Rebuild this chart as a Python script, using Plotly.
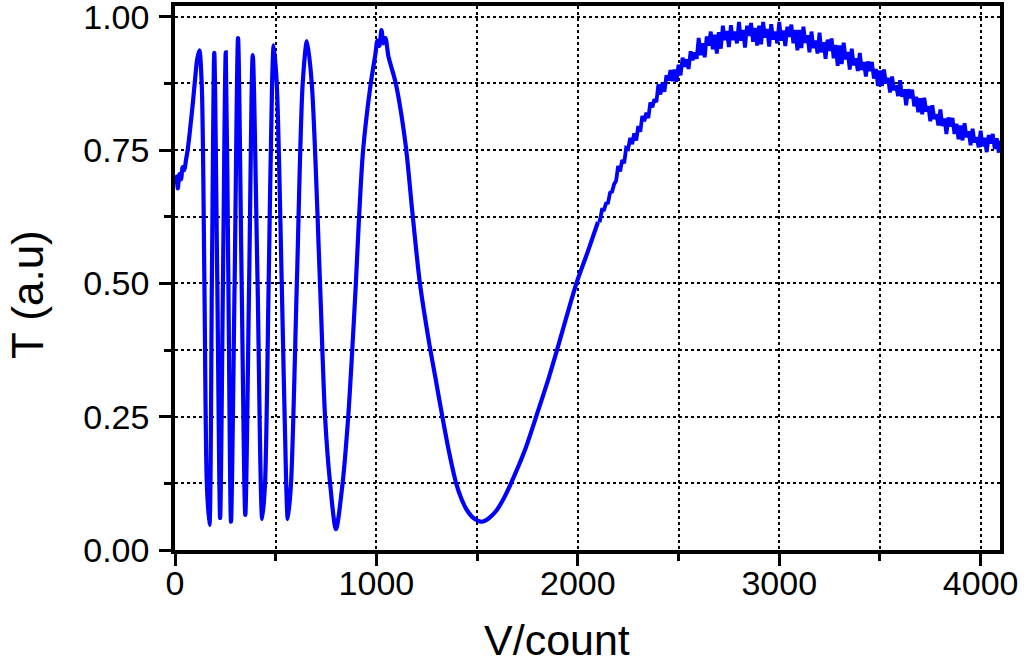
import plotly.graph_objects as go

# ---- smooth part of the trace ----
smooth_x = [0, 8, 14, 22, 30, 38, 46, 54, 62, 70, 78, 86, 94, 102, 110, 121,
            133, 146, 158, 171, 183, 195, 210, 224, 238, 252, 265, 278, 296, 313,
            331, 349, 368, 386, 410, 433, 447, 465, 482, 490, 505, 530, 552, 560,
            576, 605, 634, 655, 679, 720, 745, 770, 799, 832, 860, 880, 898, 914,
            934, 972, 995, 1005, 1015, 1025, 1035, 1045, 1060, 1096, 1145, 1178,
            1216, 1261, 1292, 1325, 1360, 1396, 1420, 1449, 1485, 1524, 1560,
            1598, 1630, 1668, 1735, 1800, 1855, 1889, 1993, 2050, 2100]
smooth_y = [0.685, 0.700, 0.678, 0.705, 0.695, 0.718, 0.712, 0.730, 0.748, 0.772,
            0.800, 0.828, 0.860, 0.892, 0.920, 0.937,
            0.870, 0.500, 0.125, 0.047, 0.500, 0.932, 0.500, 0.060, 0.500, 0.933,
            0.500, 0.053, 0.500, 0.960, 0.500, 0.066, 0.500, 0.928, 0.500, 0.058,
            0.125, 0.500, 0.875, 0.946, 0.875, 0.500, 0.125, 0.058, 0.125, 0.500,
            0.875, 0.954, 0.875, 0.500, 0.250, 0.125, 0.039, 0.125, 0.250, 0.375,
            0.500, 0.625, 0.750, 0.875, 0.930, 0.955, 0.945, 0.975, 0.950, 0.960,
            0.925, 0.875, 0.760, 0.635, 0.500, 0.390, 0.325, 0.255, 0.185, 0.125,
            0.098, 0.075, 0.059, 0.053, 0.060, 0.075, 0.095, 0.125, 0.185, 0.258,
            0.322, 0.365, 0.500, 0.560, 0.615]

# ---- noisy part of the trace (every 10 counts) ----
noisy_x = list(range(2100, 4100, 10)) + [4095]
noisy_y = [
    0.619, 0.618, 0.638, 0.638, 0.650, 0.651, 0.670, 0.672, 0.686, 0.692,
    0.720, 0.710, 0.731, 0.725, 0.754, 0.752, 0.773, 0.761, 0.781, 0.768,
    0.795, 0.784, 0.814, 0.804, 0.820, 0.810, 0.839, 0.830, 0.845, 0.840,
    0.873, 0.854, 0.876, 0.859, 0.890, 0.880, 0.900, 0.879, 0.901, 0.878,
    0.910, 0.890, 0.923, 0.906, 0.920, 0.902, 0.935, 0.918, 0.933, 0.921,
    0.960, 0.928, 0.950, 0.924, 0.963, 0.946, 0.972, 0.939, 0.966, 0.931,
    0.971, 0.940, 0.983, 0.956, 0.973, 0.943, 0.984, 0.956, 0.972, 0.950,
    0.990, 0.955, 0.975, 0.942, 0.983, 0.964, 0.988, 0.953, 0.979, 0.946,
    0.983, 0.948, 0.990, 0.961, 0.977, 0.944, 0.986, 0.957, 0.972, 0.950,
    0.990, 0.955, 0.974, 0.945, 0.981, 0.962, 0.985, 0.950, 0.975, 0.937,
    0.975, 0.941, 0.981, 0.951, 0.965, 0.933, 0.972, 0.941, 0.955, 0.931,
    0.970, 0.933, 0.952, 0.921, 0.957, 0.936, 0.959, 0.922, 0.947, 0.908,
    0.946, 0.911, 0.951, 0.920, 0.934, 0.901, 0.940, 0.909, 0.922, 0.898,
    0.932, 0.900, 0.915, 0.888, 0.916, 0.898, 0.915, 0.884, 0.902, 0.870,
    0.899, 0.870, 0.901, 0.875, 0.885, 0.858, 0.888, 0.862, 0.871, 0.851,
    0.881, 0.850, 0.864, 0.834, 0.864, 0.847, 0.863, 0.832, 0.850, 0.821,
    0.847, 0.817, 0.848, 0.822, 0.832, 0.804, 0.834, 0.808, 0.817, 0.796,
    0.826, 0.795, 0.809, 0.780, 0.811, 0.794, 0.810, 0.780, 0.799, 0.770,
    0.796, 0.768, 0.800, 0.774, 0.785, 0.759, 0.790, 0.764, 0.774, 0.755,
    0.786, 0.757, 0.773, 0.746, 0.778, 0.762, 0.780, 0.752, 0.772, 0.745,
    0.768,
]

x_ticks = [0, 1000, 2000, 3000, 4000]
y_ticks = [0.00, 0.25, 0.50, 0.75, 1.00]
x_title = "V/count"
y_title = "T (a.u)"

FONT = "Liberation Sans, Arial, sans-serif"
BLUE = "#0000FF"

fig = go.Figure()
fig.add_trace(go.Scatter(x=smooth_x, y=smooth_y, mode="lines",
                         line=dict(color=BLUE, width=4.2, shape="spline", smoothing=0.8),
                         showlegend=False, hoverinfo="skip"))
fig.add_trace(go.Scatter(x=noisy_x, y=noisy_y, mode="lines",
                         line=dict(color=BLUE, width=3.8),
                         showlegend=False, hoverinfo="skip"))

axis_common = dict(
    showline=True, linecolor="black", linewidth=3.5, mirror=True,
    ticks="outside", ticklen=12, tickwidth=3, tickcolor="black",
    showgrid=True, gridcolor="black", gridwidth=1.6, griddash="dot",
    zeroline=False, automargin=False, ticklabeloverflow="allow",
    tickfont=dict(family=FONT, size=34, color="black"),
)

fig.update_xaxes(range=[0, 4096], tickvals=x_ticks, ticklabelstandoff=-12,
                 minor=dict(dtick=500, tick0=0, ticks="outside", ticklen=7, tickwidth=2.5,
                            tickcolor="black", showgrid=True, gridcolor="black",
                            gridwidth=1.6, griddash="dot"),
                 **axis_common)
fig.update_yaxes(range=[0, 1.02], tickvals=y_ticks, tickformat=".2f",
                 ticklabelstandoff=3,
                 minor=dict(dtick=0.125, tick0=0, ticks="outside", ticklen=7, tickwidth=2.5,
                            tickcolor="black", showgrid=True, gridcolor="black",
                            gridwidth=1.6, griddash="dot"),
                 **axis_common)

fig.add_annotation(text=x_title, xref="paper", yref="paper", x=0.463, y=-0.166,
                   xanchor="center", yanchor="middle", showarrow=False,
                   font=dict(family=FONT, size=43, color="black"))
fig.add_annotation(text=y_title, xref="paper", yref="paper", x=-0.178, y=0.469,
                   xanchor="center", yanchor="middle", showarrow=False, textangle=-90,
                   font=dict(family=FONT, size=44, color="black"))

fig.update_layout(width=1026, height=668,
                  margin=dict(l=175, r=26, t=6, b=118),
                  plot_bgcolor="white", paper_bgcolor="white")

fig.write_html("out.html", config={"displayModeBar": False},
               post_script="document.body.style.margin='0';document.body.style.overflow='hidden';")
